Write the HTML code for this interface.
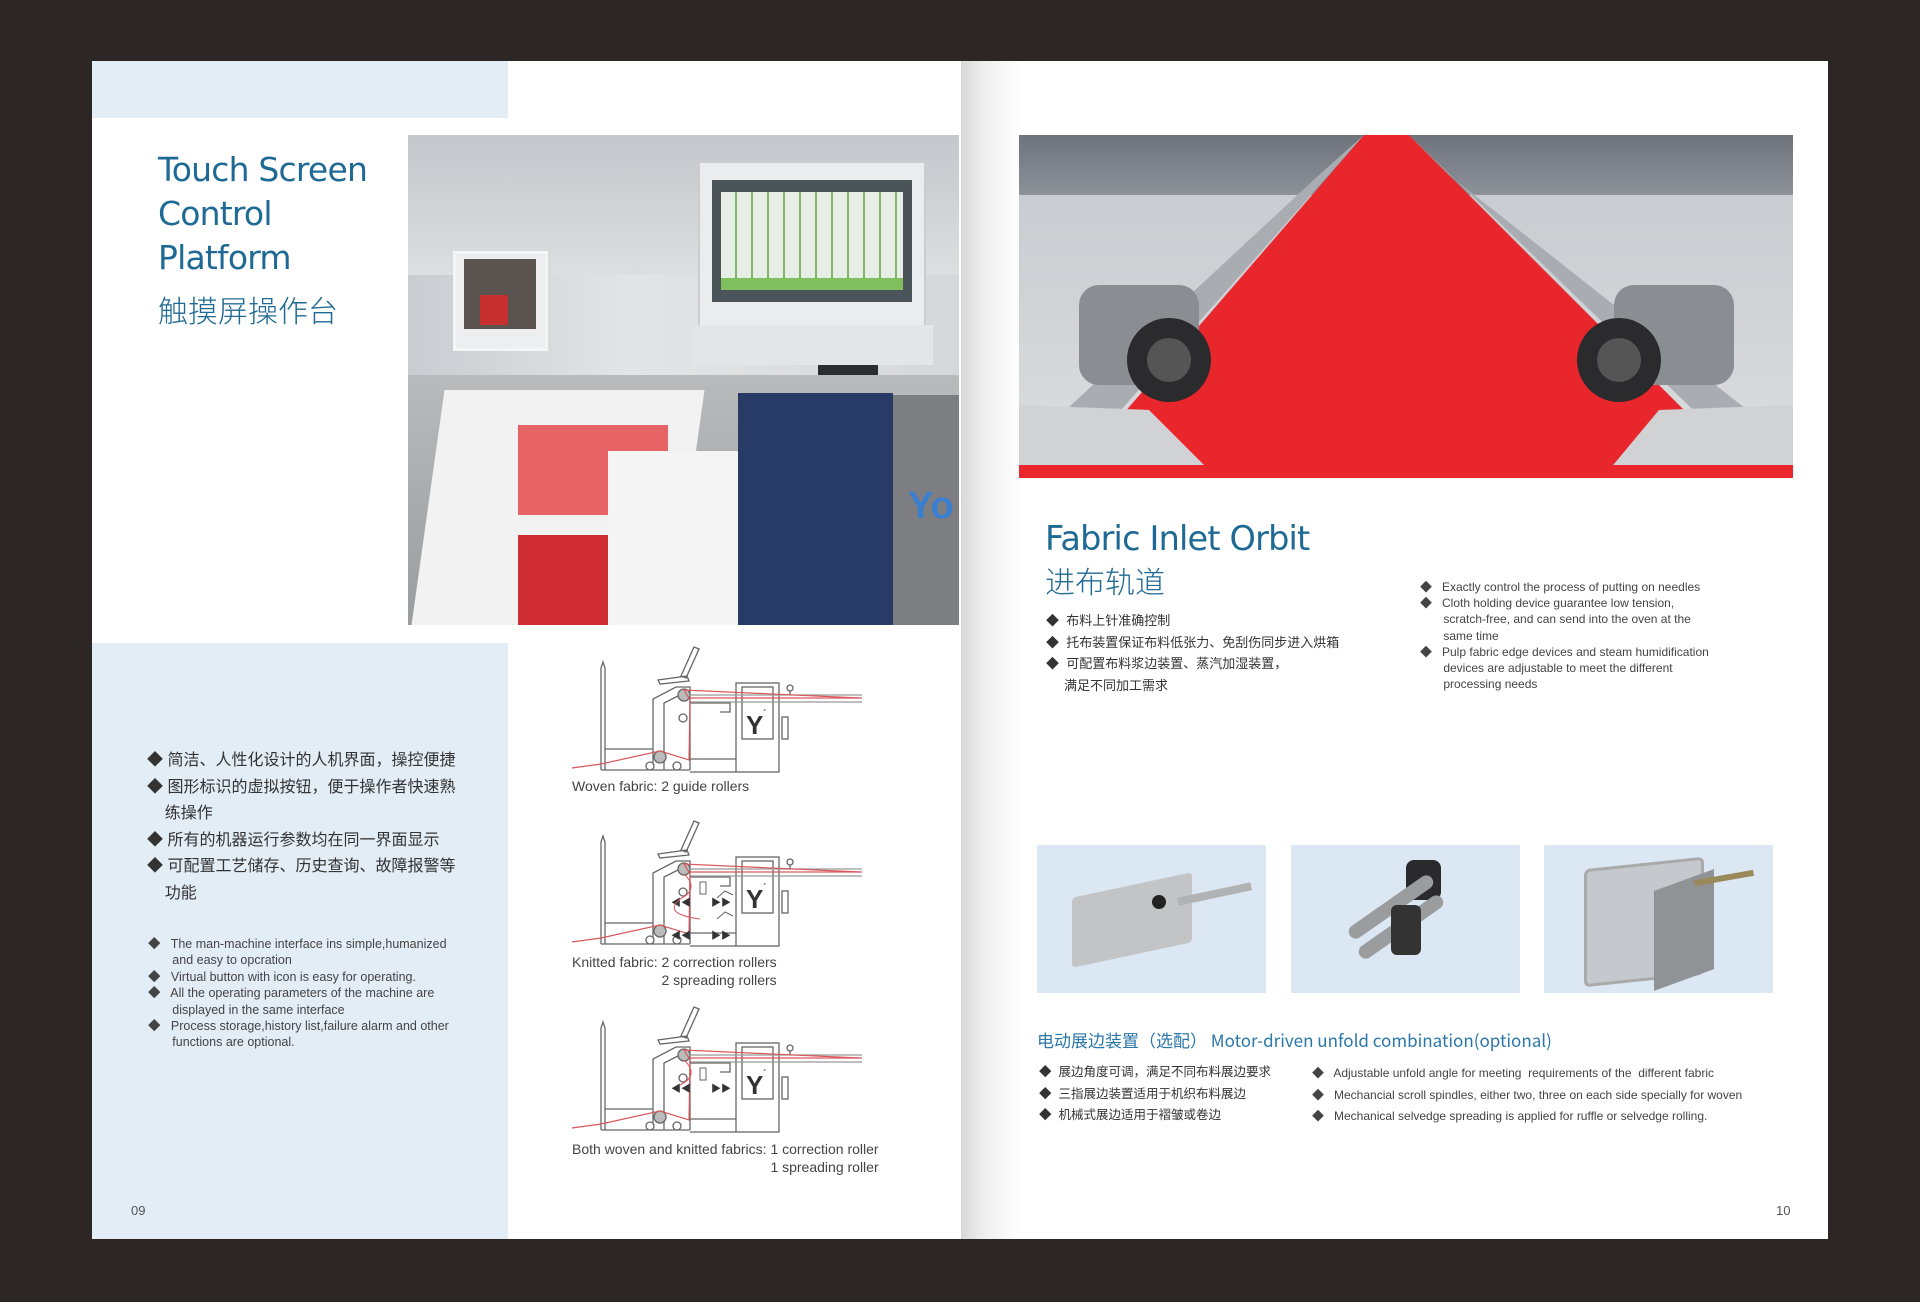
<!DOCTYPE html>
<html><head><meta charset="utf-8"><style>
*{margin:0;padding:0;box-sizing:border-box}
body{width:1920px;height:1302px;background:#2c2625;position:relative;overflow:hidden;font-family:"Liberation Sans","Noto Sans CJK SC",sans-serif;color:#3a3a3a}
.a{position:absolute}
.t{color:#1f6a94;font-family:"DejaVu Sans","Liberation Sans","Noto Sans CJK SC",sans-serif;white-space:nowrap}
.cn{font-size:16px;white-space:nowrap;color:#333}
.en{font-size:12.5px;white-space:nowrap;color:#444}
</style></head><body>
<!-- left page -->
<div class="a" style="left:92px;top:61px;width:869px;height:1178px;background:#fff"></div>
<div class="a" style="left:92px;top:61px;width:416px;height:57px;background:#e3edf6"></div>
<div class="a" style="left:92px;top:643px;width:416px;height:596px;background:#e3edf6"></div>
<div class="a t" style="left:158px;top:148px;font-size:33px;line-height:44px;letter-spacing:-0.8px">Touch Screen<br>Control<br>Platform</div>
<div class="a t" style="left:158px;top:287px;font-size:30px;font-family:'Noto Sans CJK SC',sans-serif;font-weight:300">触摸屏操作台</div>

<!-- left photo -->
<div class="a" style="left:408px;top:135px;width:551px;height:490px;background:linear-gradient(90deg,#c9ccd0,#e2e4e6 40%,#d5d8db);overflow:hidden">
  <div class="a" style="left:0;top:0;width:551px;height:140px;background:linear-gradient(180deg,#c4c7cb,#dcdee0)"></div>
  <div class="a" style="left:45px;top:116px;width:95px;height:100px;background:#eceeef;border:3px solid #f5f5f5"></div>
  <div class="a" style="left:56px;top:124px;width:72px;height:70px;background:#5a5350"></div>
  <div class="a" style="left:72px;top:160px;width:28px;height:30px;background:#c83030"></div>
  <div class="a" style="left:290px;top:26px;width:228px;height:168px;background:#ebeced;border:2px solid #ccc"></div>
  <div class="a" style="left:304px;top:45px;width:200px;height:122px;background:#4b5458"></div>
  <div class="a" style="left:313px;top:57px;width:182px;height:98px;background:repeating-linear-gradient(90deg,#e8eee6 0 14px,#7cb86a 14px 16px)"></div>
  <div class="a" style="left:313px;top:143px;width:182px;height:12px;background:#7fbf5e"></div>
  <div class="a" style="left:285px;top:190px;width:240px;height:40px;background:#e4e5e6"></div>
  <div class="a" style="left:410px;top:230px;width:60px;height:80px;background:#2a2c30"></div>
  <div class="a" style="left:0;top:240px;width:551px;height:250px;background:linear-gradient(180deg,#b8babc,#9a9c9e)"></div>
  <div class="a" style="left:20px;top:255px;width:260px;height:235px;background:#f2f2f2;transform:skewX(-8deg)"></div>
  <div class="a" style="left:110px;top:290px;width:150px;height:90px;background:#e44a4e;opacity:.85"></div>
  <div class="a" style="left:110px;top:400px;width:140px;height:90px;background:#cf2d33"></div>
  <div class="a" style="left:200px;top:316px;width:130px;height:174px;background:#f4f4f4"></div>
  <div class="a" style="left:330px;top:258px;width:155px;height:232px;background:#283a66"></div>
  <div class="a" style="left:485px;top:260px;width:66px;height:230px;background:#7c7e82"></div>
  <div class="a" style="left:500px;top:350px;font-size:38px;color:#3a7fd0;font-weight:bold">Yo</div>
</div>

<div class="a cn" style="left:147px;top:748px;line-height:26.5px">◆ 简洁、人性化设计的人机界面，操控便捷<br>◆ 图形标识的虚拟按钮，便于操作者快速熟<br>&nbsp;&nbsp;&nbsp; 练操作<br>◆ 所有的机器运行参数均在同一界面显示<br>◆ 可配置工艺储存、历史查询、故障报警等<br>&nbsp;&nbsp;&nbsp; 功能</div>
<div class="a en" style="left:148px;top:936px;line-height:16.4px">◆&nbsp;&nbsp; The man-machine interface ins simple,humanized<br>&nbsp;&nbsp;&nbsp;&nbsp;&nbsp;&nbsp; and easy to opcration<br>◆&nbsp;&nbsp; Virtual button with icon is easy for operating.<br>◆&nbsp;&nbsp; All the operating parameters of the machine are<br>&nbsp;&nbsp;&nbsp;&nbsp;&nbsp;&nbsp; displayed in the same interface<br>◆&nbsp;&nbsp; Process storage,history list,failure alarm and other<br>&nbsp;&nbsp;&nbsp;&nbsp;&nbsp;&nbsp; functions are optional.</div>
<div class="a" style="left:131px;top:1203px;font-size:13px;color:#555">09</div>

<!-- diagrams -->
<svg class="a" style="left:0;top:0" width="961" height="1239">
<defs>
<g id="dg" fill="none" stroke="#666" stroke-width="1.3">
  <path d="M601 770 V668 L603 662 L605 668 V770"/>
  <path d="M605 749 H653 M601 770 H690"/>
  <path d="M653 770 V699 L676 687 H690 V770"/>
  <path d="M664 770 V703 L680 695"/>
  <path d="M658 680 L687 676 L689 681 L660 684 Z"/>
  <path d="M681 676 L694 647 L699 649 L686 678 Z"/>
  <rect x="736" y="683" width="43" height="89"/>
  <rect x="742" y="687" width="31" height="52"/>
  <path d="M690 759 H736 M690 772 H736"/>
  <path d="M690 703 H730 V712 H720"/>
  <rect x="782" y="717" width="6" height="22"/>
  <circle cx="790" cy="688" r="3"/><path d="M790 691 V695"/>
  <circle cx="684" cy="695" r="6" fill="#bbb"/>
  <circle cx="683" cy="718" r="4" fill="#fff"/>
  <circle cx="660" cy="757" r="6" fill="#bbb"/>
  <circle cx="650" cy="766" r="4" fill="#fff"/>
  <circle cx="677" cy="766" r="4" fill="#fff"/>
  <path d="M690 695 H862 M690 702 H862" stroke="#999"/>
  <path d="M572 768 L601 764 L660 751 L689 760 L690 700 L684 690 L860 698" stroke="#d9575b" stroke-width="1.2"/>
  <path d="M690 698 H862" stroke="#d9575b"/>
  <text x="746" y="734" font-family="Liberation Sans" font-size="26" font-weight="bold" fill="#333" stroke="none">Y</text>
  <text x="763" y="718" font-family="Liberation Sans" font-size="12" fill="#333" stroke="none">´</text>
</g>
</defs>
<use href="#dg"/>
<g transform="translate(0,174)"><use href="#dg"/>
  <path d="M717 724 L725 717 L733 721 M717 745 L725 738 L733 742" stroke="#666" fill="none"/>
  <rect x="700" y="708" width="6" height="12" fill="#fff" stroke="#666"/>
  <text x="671" y="732" font-size="10" fill="#333">◀◀</text><text x="711" y="732" font-size="10" fill="#333">▶▶</text>
  <text x="671" y="765" font-size="10" fill="#333">◀◀</text><text x="711" y="765" font-size="10" fill="#333">▶▶</text>
  <path d="M684 700 Q700 715 680 725 Q662 740 700 745" stroke="#d9575b" fill="none"/>
</g>
<g transform="translate(0,360)"><use href="#dg"/>
  <rect x="700" y="708" width="6" height="12" fill="#fff" stroke="#666"/>
  <text x="671" y="732" font-size="10" fill="#333">◀◀</text><text x="711" y="732" font-size="10" fill="#333">▶▶</text>
  <path d="M684 700 Q700 715 680 725" stroke="#d9575b" fill="none"/>
</g>
</svg>
<div class="a" style="left:572px;top:778px;font-size:14px;color:#444;white-space:nowrap">Woven fabric: 2 guide rollers</div>
<div class="a" style="left:572px;top:953px;font-size:14px;color:#444;white-space:nowrap;line-height:18px;text-align:right">Knitted fabric: 2 correction rollers<br>2 spreading rollers</div>
<div class="a" style="left:572px;top:1140px;font-size:14px;color:#444;white-space:nowrap;line-height:18px;text-align:right">Both woven and knitted fabrics: 1 correction roller<br>1 spreading roller</div>

<!-- right page -->
<div class="a" style="left:961px;top:61px;width:867px;height:1178px;background:linear-gradient(90deg,#d8d8d8 0,#f0f0f0 25px,#fff 60px)"></div>
<div class="a" style="left:1019px;top:135px;width:774px;height:343px;background:linear-gradient(180deg,#6e737c,#b5b9be 40%,#9ea2a6);overflow:hidden">
  <div class="a" style="left:0;top:60px;width:774px;height:283px;background:linear-gradient(180deg,#c9ccd0,#dcdee0)"></div>
  <svg class="a" style="left:0;top:0" width="774" height="343">
    <polygon points="345,0 390,0 720,330 60,330" fill="#e8262c"/>
    <polygon points="300,40 345,0 80,300 20,300" fill="#a9adb2"/>
    <polygon points="390,0 430,40 760,300 700,300" fill="#a9adb2"/>
    <rect x="60" y="150" width="120" height="100" rx="20" fill="#8a8d92"/>
    <circle cx="150" cy="225" r="42" fill="#2b2b2d"/><circle cx="150" cy="225" r="22" fill="#555"/>
    <rect x="595" y="150" width="120" height="100" rx="20" fill="#8a8d92"/>
    <circle cx="600" cy="225" r="42" fill="#2b2b2d"/><circle cx="600" cy="225" r="22" fill="#555"/>
    <polygon points="0,270 130,275 190,335 0,335" fill="#d0d2d4"/>
    <polygon points="774,270 640,275 590,335 774,335" fill="#d0d2d4"/>
    <rect x="0" y="330" width="774" height="13" fill="#e8262c"/>
  </svg>
</div>
<div class="a t" style="left:1045px;top:519px;font-size:33.5px;letter-spacing:-0.8px">Fabric Inlet Orbit</div>
<div class="a t" style="left:1045px;top:558px;font-size:30px;font-family:'Noto Sans CJK SC',sans-serif;font-weight:300">进布轨道</div>
<div class="a" style="left:1046px;top:610px;font-size:13px;line-height:21.5px;color:#333;white-space:nowrap">◆&nbsp; 布料上针准确控制<br>◆&nbsp; 托布装置保证布料低张力、免刮伤同步进入烘箱<br>◆&nbsp; 可配置布料浆边装置、蒸汽加湿装置，<br>&nbsp;&nbsp;&nbsp;&nbsp; 满足不同加工需求</div>
<div class="a" style="left:1420px;top:579px;font-size:12px;line-height:16.2px;color:#444;white-space:nowrap">◆&nbsp;&nbsp; Exactly control the process of putting on needles<br>◆&nbsp;&nbsp; Cloth holding device guarantee low tension,<br>&nbsp;&nbsp;&nbsp;&nbsp;&nbsp;&nbsp; scratch-free, and can send into the oven at the<br>&nbsp;&nbsp;&nbsp;&nbsp;&nbsp;&nbsp; same time<br>◆&nbsp;&nbsp; Pulp fabric edge devices and steam humidification<br>&nbsp;&nbsp;&nbsp;&nbsp;&nbsp;&nbsp; devices are adjustable to meet the different<br>&nbsp;&nbsp;&nbsp;&nbsp;&nbsp;&nbsp; processing needs</div>

<!-- product images -->
<div class="a" style="left:1037px;top:845px;width:229px;height:148px;background:#dbe7f2">
  <div class="a" style="left:35px;top:40px;width:120px;height:70px;background:#c2c4c6;transform:skewY(-12deg);border-radius:4px"></div>
  <div class="a" style="left:140px;top:45px;width:75px;height:8px;background:#b0b2b4;transform:rotate(-12deg)"></div>
  <div class="a" style="left:115px;top:50px;width:14px;height:14px;background:#222;border-radius:50%"></div>
</div>
<div class="a" style="left:1291px;top:845px;width:229px;height:148px;background:#dbe7f2">
  <div class="a" style="left:115px;top:15px;width:35px;height:40px;background:#2a2a2c;border-radius:8px"></div>
  <div class="a" style="left:50px;top:55px;width:100px;height:14px;background:#9a9c9e;transform:rotate(-35deg);border-radius:7px"></div>
  <div class="a" style="left:60px;top:75px;width:100px;height:14px;background:#9a9c9e;transform:rotate(-35deg);border-radius:7px"></div>
  <div class="a" style="left:100px;top:60px;width:30px;height:50px;background:#333;border-radius:6px"></div>
</div>
<div class="a" style="left:1544px;top:845px;width:229px;height:148px;background:#dbe7f2">
  <div class="a" style="left:40px;top:18px;width:120px;height:118px;background:#c5c9cd;border:3px solid #aaa;border-radius:6px;transform:skewY(-6deg)"></div>
  <div class="a" style="left:110px;top:35px;width:60px;height:100px;background:#8f9396;transform:skewY(-20deg)"></div>
  <div class="a" style="left:150px;top:30px;width:60px;height:6px;background:#9a8a5a;transform:rotate(-10deg)"></div>
</div>

<div class="a t" style="left:1037px;top:1027px;font-size:17px;font-family:'Noto Sans CJK SC','DejaVu Sans',sans-serif;color:#2a77a8">电动展边装置（选配） Motor-driven unfold combination(optional)</div>
<div class="a" style="left:1039px;top:1062px;font-size:12.5px;line-height:21.5px;color:#333;white-space:nowrap">◆&nbsp; 展边角度可调，满足不同布料展边要求<br>◆&nbsp; 三指展边装置适用于机织布料展边<br>◆&nbsp; 机械式展边适用于褶皱或卷边</div>
<div class="a" style="left:1312px;top:1063px;font-size:12px;line-height:21.5px;color:#444;white-space:nowrap">◆&nbsp;&nbsp; Adjustable unfold angle for meeting&nbsp; requirements of the&nbsp; different fabric<br>◆&nbsp;&nbsp; Mechancial scroll spindles, either two, three on each side specially for woven<br>◆&nbsp;&nbsp; Mechanical selvedge spreading is applied for ruffle or selvedge rolling.</div>
<div class="a" style="left:1776px;top:1203px;font-size:13px;color:#555">10</div>
</body></html>
